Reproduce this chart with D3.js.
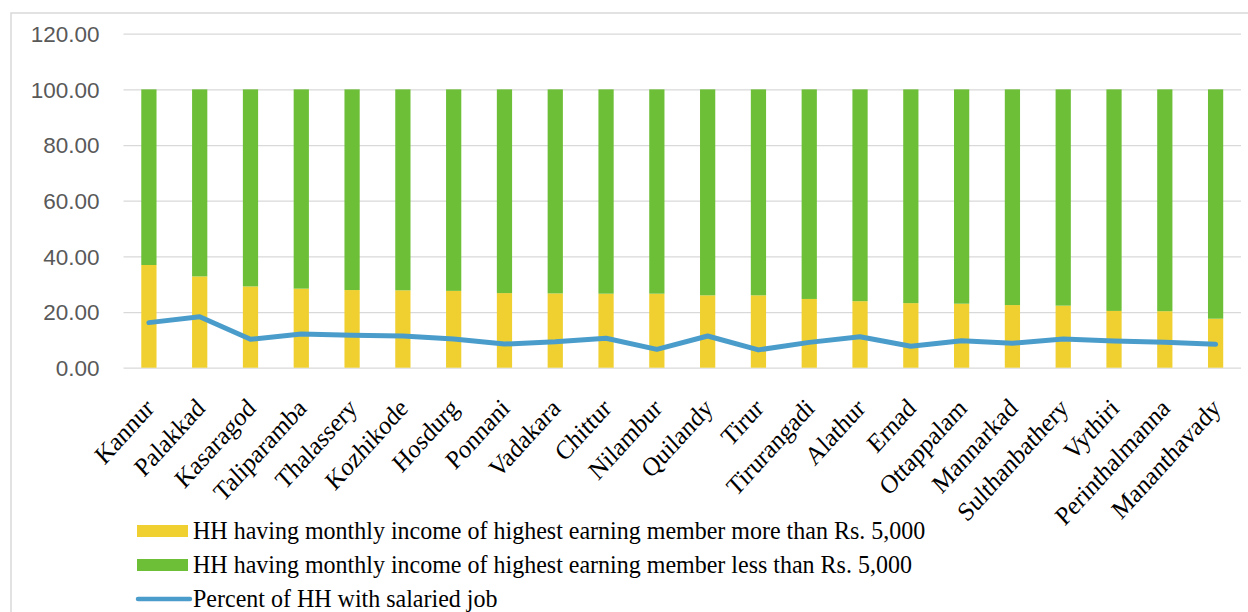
<!DOCTYPE html>
<html>
<head>
<meta charset="utf-8">
<script src="https://cdn.jsdelivr.net/npm/d3@7"></script>
<style>
  html, body { margin: 0; padding: 0; background: #fff; }
  svg { display: block; }
</style>
</head>
<body>
<svg id="chart" width="1248" height="612"></svg>
<script>
// Taluks, ordered by share of households whose top earner makes more than Rs. 5,000
const taluks = ["Kannur", "Palakkad", "Kasaragod", "Taliparamba", "Thalassery", "Kozhikode",
  "Hosdurg", "Ponnani", "Vadakara", "Chittur", "Nilambur", "Quilandy", "Tirur", "Tirurangadi",
  "Alathur", "Ernad", "Ottappalam", "Mannarkad", "Sulthanbathery", "Vythiri",
  "Perinthalmanna", "Mananthavady"];

// % HH with highest earning member earning more than Rs. 5,000
const moreThan5000 = [36.9, 32.8, 29.2, 28.4, 27.9, 27.8, 27.6, 26.8, 26.7, 26.6, 26.6,
  26.0, 26.0, 24.7, 23.9, 23.2, 23.0, 22.5, 22.3, 20.4, 20.3, 17.6];

// % HH with highest earning member earning less than Rs. 5,000 (remainder of 100)
const lessThan5000 = [63.1, 67.2, 70.8, 71.6, 72.1, 72.2, 72.4, 73.2, 73.3, 73.4, 73.4,
  74.0, 74.0, 75.3, 76.1, 76.8, 77.0, 77.5, 77.7, 79.6, 79.7, 82.4];

// % HH with a salaried job
const salariedJob = [16.2, 18.3, 10.2, 12.1, 11.7, 11.4, 10.3, 8.5, 9.3, 10.6, 6.6,
  11.4, 6.4, 9.1, 11.1, 7.7, 9.7, 8.8, 10.3, 9.6, 9.1, 8.4];

const yTicks = [0, 20, 40, 60, 80, 100, 120];

const legendLabels = [
  "HH having monthly income of highest earning member more than Rs. 5,000",
  "HH having monthly income of highest earning member less than Rs. 5,000",
  "Percent of HH with salaried job"
];

const colors = { more: "#F0D030", less: "#6EBF38", line: "#4A9DCB", grid: "#D9D9D9" };

const svg = d3.select("#chart");

// chart area frame
svg.append("rect")
  .attr("x", 11).attr("y", 13)
  .attr("width", 1300).attr("height", 700)
  .attr("fill", "none")
  .attr("stroke", "#D9D9D9")
  .attr("stroke-width", 1.5);

const plot = { left: 123.5, right: 1241, top: 33.7, bottom: 367.7 };

const x = d3.scalePoint().domain(taluks).range([plot.left, plot.right]).padding(0.5);
const barW = x.step() * 0.3;
const y = d3.scaleLinear().domain([0, 120]).range([plot.bottom, plot.top]);

// horizontal gridlines + y labels
const yAxis = d3.axisLeft(y).tickValues(yTicks)
  .tickSize(-(plot.right - plot.left))
  .tickPadding(24)
  .tickFormat(d3.format(".2f"));

const gy = svg.append("g")
  .attr("transform", `translate(${plot.left},0)`)
  .call(yAxis);
gy.select(".domain").remove();
gy.selectAll(".tick line").attr("stroke", colors.grid).attr("stroke-width", 1.3);
gy.selectAll(".tick text")
  .attr("fill", "#595959")
  .attr("font-family", "Liberation Sans, Arial, sans-serif")
  .attr("font-size", 22.5)
  .attr("dy", "0.35em");

// stacked bars
const rows = taluks.map((t, i) => ({ t, more: moreThan5000[i], less: lessThan5000[i] }));
const stack = d3.stack().keys(["more", "less"])(rows);
const fills = { more: colors.more, less: colors.less };

svg.append("g").selectAll("g")
  .data(stack)
  .join("g")
  .attr("fill", s => fills[s.key])
  .selectAll("rect")
  .data(s => s)
  .join("rect")
  .attr("x", d => x(d.data.t) - barW / 2)
  .attr("width", barW)
  .attr("y", d => y(d[1]))
  .attr("height", d => y(d[0]) - y(d[1]));

// salaried job line
const line = d3.line()
  .x((d, i) => x(taluks[i]))
  .y(d => y(d));

svg.append("path")
  .datum(salariedJob)
  .attr("fill", "none")
  .attr("stroke", colors.line)
  .attr("stroke-width", 5)
  .attr("stroke-linejoin", "round")
  .attr("stroke-linecap", "round")
  .attr("d", line);

// rotated category labels
const xAxis = d3.axisBottom(x).tickSize(0).tickPadding(0);
const gx = svg.append("g")
  .attr("transform", `translate(0,${plot.bottom})`)
  .call(xAxis);
gx.select(".domain").remove();
gx.selectAll(".tick text")
  .attr("font-family", "Liberation Serif, 'Times New Roman', serif")
  .attr("font-size", 24)
  .attr("fill", "#000")
  .attr("text-anchor", "end")
  .attr("dy", 0)
  .attr("transform", "translate(6,42) scale(1,1.1) rotate(-45)");

// legend
const legend = svg.append("g").attr("font-family", "Liberation Serif, 'Times New Roman', serif")
  .attr("font-size", 24);

const rowY = [531, 565, 599];
[colors.more, colors.less].forEach((c, i) => {
  legend.append("rect")
    .attr("x", 137).attr("y", rowY[i] - 6)
    .attr("width", 51).attr("height", 12)
    .attr("fill", c);
});
legend.append("line")
  .attr("x1", 138).attr("x2", 190)
  .attr("y1", rowY[2]).attr("y2", rowY[2])
  .attr("stroke", colors.line)
  .attr("stroke-width", 4.5)
  .attr("stroke-linecap", "round");

legend.selectAll("text.lbl")
  .data(legendLabels)
  .join("text")
  .attr("class", "lbl")
  .attr("transform", (d, i) => `translate(193,${rowY[i]}) scale(1,1.07)`)
  .attr("dy", "0.33em")
  .attr("fill", "#000")
  .text(d => d);
</script>
</body>
</html>
